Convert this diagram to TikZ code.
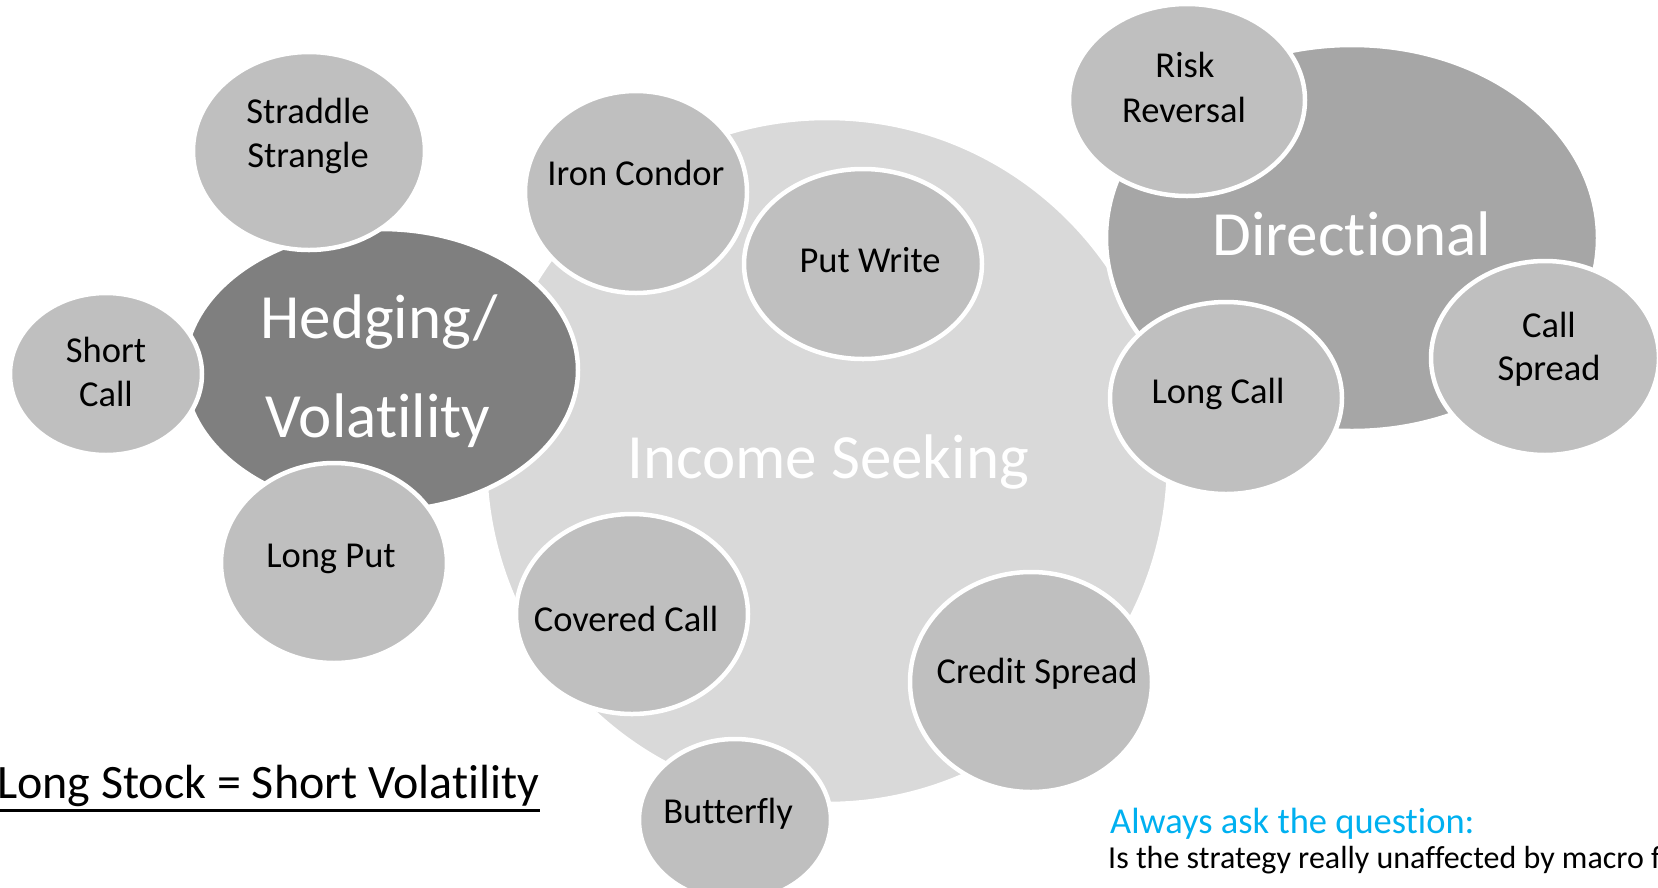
\documentclass[tikz,border=0pt]{standalone}
\usepackage{fontspec}
\setmainfont{Carlito}[Ligatures={NoCommon}]
\usetikzlibrary{shapes.geometric}
\definecolor{incomegray}{HTML}{D9D9D9}
\definecolor{hedgegray}{HTML}{7F7F7F}
\definecolor{directgray}{HTML}{A6A6A6}
\definecolor{bubblegray}{HTML}{BFBFBF}
\definecolor{askblue}{HTML}{00B0F0}
\begin{document}
\begin{tikzpicture}[x=1pt,y=-1pt,
  bubble/.style={ellipse, draw=white, line width=4.5pt, inner sep=0pt},
  smallbubble/.style={bubble, fill=bubblegray},
  smalltext/.style={anchor=base, font=\fontsize{36.5}{44}\selectfont, inner sep=0pt, text=black},
  bigtext/.style={anchor=base, font=\fontsize{63}{76}\selectfont, inner sep=0pt, text=white}]
\useasboundingbox (0,0) rectangle (1658,887);
% big circles
\node[bubble, fill=incomegray, minimum width=684pt, minimum height=686pt] (income) at (827,461) {};
\node[bubble, fill=hedgegray, minimum width=394pt, minimum height=282pt] (hedging) at (381,370) {};
\node[bubble, fill=directgray, minimum width=492pt, minimum height=386pt] (directional) at (1352,238) {};
% small circles
\node[smallbubble, minimum width=232pt, minimum height=198pt] (straddle) at (309,151) {};
\node[smallbubble, minimum width=192pt, minimum height=162pt] (shortcall) at (106,374) {};
\node[smallbubble, minimum width=226pt, minimum height=200pt] (longput) at (334,563) {};
\node[smallbubble, minimum width=222pt, minimum height=202pt] (ironcondor) at (636,192) {};
\node[smallbubble, minimum width=238pt, minimum height=190pt] (putwrite) at (863,264) {};
\node[smallbubble, minimum width=232pt, minimum height=200pt] (coveredcall) at (632,614) {};
\node[smallbubble, minimum width=242pt, minimum height=220pt] (creditspread) at (1031,682) {};
\node[smallbubble, minimum width=192pt, minimum height=162pt] (butterfly) at (735,820) {};
\node[smallbubble, minimum width=236pt, minimum height=192pt] (riskreversal) at (1187,100) {};
\node[smallbubble, minimum width=232pt, minimum height=192pt] (longcall) at (1226,398) {};
\node[smallbubble, minimum width=228pt, minimum height=194pt] (callspread) at (1545,358) {};
% big labels
\node[bigtext] (t-hedge1) at (379,338) {Hedging/};
\node[bigtext] (t-hedge2) at (378,437) {Volatility};
\node[bigtext] (t-income) at (828,478) {Income Seeking};
\node[bigtext] (t-direct) at (1352,255) {Directional};
% small labels
\node[smalltext] (t-straddle1) at (308,123) {Straddle};
\node[smalltext] (t-straddle2) at (308,167) {Strangle};
\node[smalltext] (t-short1) at (106,362) {Short};
\node[smalltext] (t-short2) at (106,406) {Call};
\node[smalltext] (t-longput) at (331,567) {Long Put};
\node[smalltext] (t-iron) at (636,185) {Iron Condor};
\node[smalltext] (t-putwrite) at (870,272) {Put Write};
\node[smalltext] (t-covered) at (626,631) {Covered Call};
\node[smalltext] (t-credit) at (1037,683) {Credit Spread};
\node[smalltext] (t-butterfly) at (728,823) {Butterfly};
\node[smalltext] (t-risk1) at (1185,77) {Risk};
\node[smalltext] (t-risk2) at (1184,122) {Reversal};
\node[smalltext] (t-longcall) at (1218,403) {Long Call};
\node[smalltext] (t-call1) at (1549,337) {Call};
\node[smalltext] (t-call2) at (1549,380) {Spread};
% notes
\node[anchor=base west, font=\fontsize{48}{56}\selectfont, inner sep=0pt] (lsv) at (-3,798) {Long Stock = Short Volatility};
\draw[line width=3pt] ([yshift=-12pt]lsv.base west) -- ([yshift=-12pt]lsv.base east);
\node[anchor=base west, font=\fontsize{36.5}{44}\selectfont, inner sep=0pt, text=askblue] (ask) at (1110,833) {Always ask the question:};
\node[anchor=base west, font=\fontsize{32}{38}\selectfont, inner sep=0pt] (question) at (1108,868) {Is the strategy really unaffected by macro f};
\end{tikzpicture}
\end{document}
